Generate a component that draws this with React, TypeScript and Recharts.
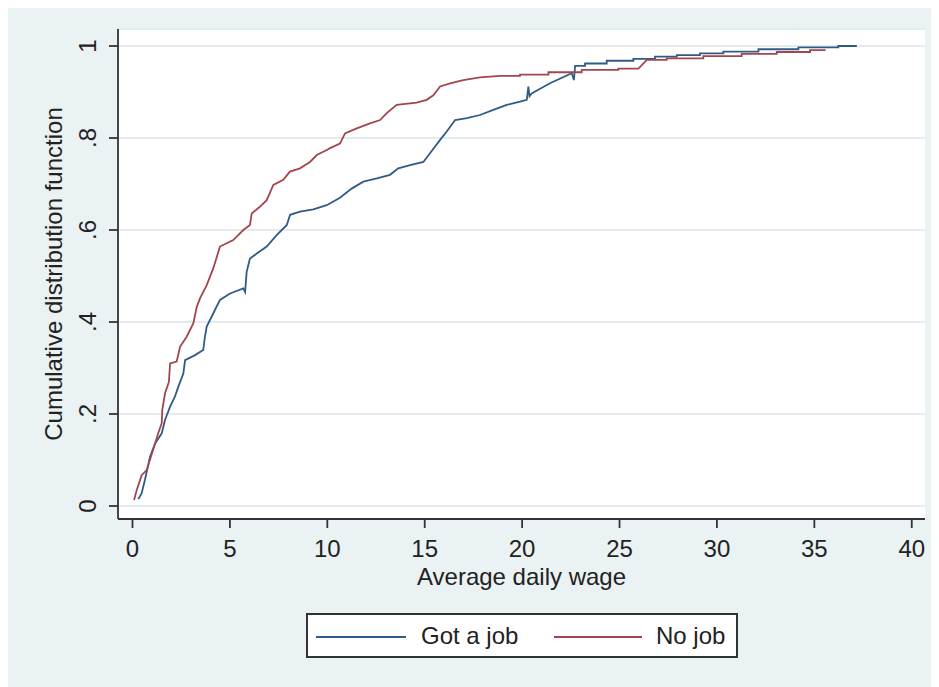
import React from 'react';
import { LineChart, Line, XAxis, YAxis, CartesianGrid, Label } from 'recharts';

// Got a job: wage and cdf
const gotJobWage = [
  0.3, 0.47, 0.64, 0.9, 1.16, 1.5, 1.67, 1.93, 2.18, 2.35, 2.61, 2.7, 3.21, 3.63, 3.72, 3.81,
  4.15, 4.49, 5.01, 5.69, 5.78, 5.86, 6.03, 6.38, 6.89, 7.4, 7.92, 8.09, 8.6, 9.28, 9.97,
  10.65, 11.25, 11.85, 12.54, 13.22, 13.64, 14.25, 14.93, 15.27, 15.79, 16.13, 16.56, 17.16,
  17.84, 18.52, 19.21, 19.89, 20.24, 20.32, 20.38, 20.49, 21.43, 22.55, 22.66, 22.72, 23.23,
  23.23, 24.34, 24.34, 25.71, 25.71, 26.82, 26.82, 27.94, 27.94, 29.13, 29.13, 30.33, 30.33,
  32.13, 32.13, 34.18, 34.18, 36.23, 36.23, 37.18,
];
const gotJobCdf = [
  0.015, 0.028, 0.057, 0.107, 0.136, 0.158, 0.187, 0.216, 0.238, 0.259, 0.288, 0.317, 0.328,
  0.339, 0.368, 0.39, 0.419, 0.448, 0.462, 0.473, 0.465, 0.509, 0.538, 0.549, 0.564, 0.589,
  0.611, 0.633, 0.64, 0.645, 0.654, 0.67, 0.69, 0.705, 0.712, 0.72, 0.734, 0.741, 0.748, 0.767,
  0.796, 0.814, 0.839, 0.843, 0.85, 0.861, 0.872, 0.879, 0.883, 0.912, 0.891, 0.897, 0.919,
  0.941, 0.926, 0.957, 0.957, 0.962, 0.962, 0.968, 0.968, 0.972, 0.972, 0.977, 0.977, 0.98,
  0.98, 0.984, 0.984, 0.988, 0.988, 0.993, 0.993, 0.997, 0.997, 1.0, 1.0,
];

// No job
const noJobWage = [
  0.08, 0.22, 0.47, 0.73, 1.16, 1.32, 1.5, 1.53, 1.67, 1.87, 1.93, 2.27, 2.44, 2.78, 3.12, 3.3,
  3.47, 3.81, 4.15, 4.49, 5.17, 5.69, 6.03, 6.12, 6.55, 6.89, 7.23, 7.74, 8.08, 8.6, 9.11, 9.46,
  9.97, 10.14, 10.65, 10.91, 11.51, 12.19, 12.71, 13.05, 13.56, 14.59, 15.1, 15.44, 15.79,
  16.3, 16.98, 17.84, 18.87, 19.89, 19.89, 21.35, 21.35, 23.06, 23.06, 24.94, 24.94, 25.97,
  26.4, 27.42, 27.42, 29.3, 29.3, 31.27, 31.27, 33.07, 33.07, 34.78, 34.78, 35.58,
];
const noJobCdf = [
  0.013, 0.035, 0.067, 0.078, 0.136, 0.158, 0.18, 0.209, 0.245, 0.27, 0.31, 0.314, 0.346, 0.368,
  0.397, 0.433, 0.452, 0.48, 0.517, 0.564, 0.578, 0.6, 0.611, 0.636, 0.651, 0.665, 0.698, 0.709,
  0.727, 0.734, 0.748, 0.763, 0.774, 0.778, 0.788, 0.81, 0.821, 0.832, 0.839, 0.854, 0.872,
  0.877, 0.883, 0.893, 0.912, 0.919, 0.926, 0.932, 0.935, 0.935, 0.938, 0.938, 0.943, 0.943,
  0.948, 0.948, 0.951, 0.951, 0.97, 0.97, 0.973, 0.973, 0.978, 0.978, 0.983, 0.983, 0.987,
  0.987, 0.991, 0.991,
];

const xTicks = [0, 5, 10, 15, 20, 25, 30, 35, 40];
const yTicks = [0, 0.2, 0.4, 0.6, 0.8, 1];

const seriesNames = ['Got a job', 'No job'];
const BLUE = '#2f5b86';
const RED = '#a3454d';
const BG = '#EAF2F3';
const FONT = '"Liberation Sans", Arial, sans-serif';
const FS = 24;

const gotJob = gotJobWage.map((w, i) => ({ wage: w, cdf: gotJobCdf[i] }));
const noJob = noJobWage.map((w, i) => ({ wage: w, cdf: noJobCdf[i] }));

const fmtY = (v: number) => (v === 0 ? '0' : v === 1 ? '1' : String(v).replace('0.', '.'));

const XTick = ({ x, y, payload }: any) => (
  <text x={x} y={y + 29} textAnchor="middle" fontFamily={FONT} fontSize={FS} fill="#222">
    {payload.value}
  </text>
);

const YTick = ({ x, y, payload }: any) => (
  <text
    x={x - 13}
    y={y}
    transform={`rotate(-90, ${x - 13}, ${y})`}
    textAnchor="middle"
    fontFamily={FONT}
    fontSize={FS}
    fill="#222"
  >
    {fmtY(payload.value)}
  </text>
);

export default function App() {
  return (
    <div style={{ marginTop: -5, width: 931, height: 684, background: BG, position: 'relative' }}>
      <LineChart width={931} height={684} margin={{ top: 26, right: 14, bottom: 0, left: 0 }}>
        <CartesianGrid vertical={false} fill="#fff" stroke="#E4ECEF" strokeWidth={2} />
        <XAxis
          type="number"
          dataKey="wage"
          domain={[-0.744, 40.68]}
          ticks={xTicks}
          allowDataOverflow
          height={168}
          tickSize={9}
          tickMargin={0}
          axisLine={{ stroke: '#333', strokeWidth: 1.8 }}
          tickLine={{ stroke: '#333', strokeWidth: 1.8 }}
          tick={<XTick />}
        >
          <Label
            content={() => (
              <text x={513.5} y={582} textAnchor="middle" fontFamily={FONT} fontSize={FS} fill="#222">
                Average daily wage
              </text>
            )}
          />
        </XAxis>
        <YAxis
          type="number"
          domain={[-0.0283, 1.037]}
          ticks={yTicks}
          allowDataOverflow
          width={110}
          tickSize={9}
          tickMargin={0}
          axisLine={{ stroke: '#333', strokeWidth: 1.8 }}
          tickLine={{ stroke: '#333', strokeWidth: 1.8 }}
          tick={<YTick />}
        >
          <Label
            content={() => (
              <text
                x={54}
                y={271}
                transform="rotate(-90, 54, 271)"
                textAnchor="middle"
                fontFamily={FONT}
                fontSize={FS}
                fill="#222"
              >
                Cumulative distribution function
              </text>
            )}
          />
        </YAxis>
        <Line data={gotJob} dataKey="cdf" name={seriesNames[0]} type="linear" stroke={BLUE} strokeWidth={1.8} dot={false} isAnimationActive={false} />
        <Line data={noJob} dataKey="cdf" name={seriesNames[1]} type="linear" stroke={RED} strokeWidth={1.8} dot={false} isAnimationActive={false} />
      </LineChart>

      {/* legend box */}
      <svg width={432} height={45} style={{ position: 'absolute', left: 298, top: 610 }}>
        <rect x={1} y={1} width={430} height={43} fill="#fff" stroke="#333" strokeWidth={2} />
        <line x1={10} x2={100} y1={24} y2={24} stroke={BLUE} strokeWidth={2} />
        <text x={115} y={31} fontFamily={FONT} fontSize={FS} fill="#222">{seriesNames[0]}</text>
        <line x1={248} x2={336} y1={24} y2={24} stroke={RED} strokeWidth={2} />
        <text x={350} y={31} fontFamily={FONT} fontSize={FS} fill="#222">{seriesNames[1]}</text>
      </svg>
    </div>
  );
}
